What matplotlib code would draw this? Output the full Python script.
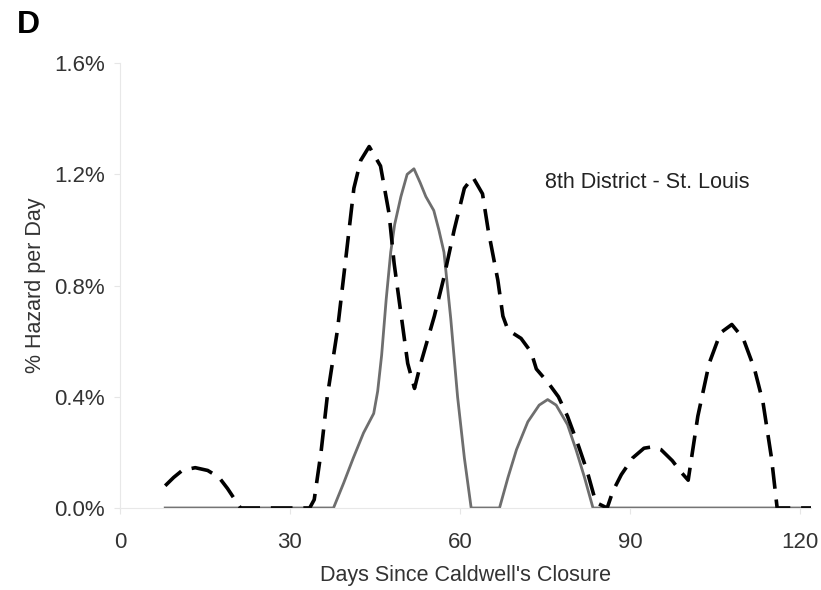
import matplotlib.pyplot as plt
from matplotlib.ticker import FuncFormatter

plt.rcParams["font.family"] = ["Liberation Sans", "DejaVu Sans"]

# solid gray series (days, % hazard per day)
dias_solida = [8, 37.7, 39.5, 41.2, 43, 44.8, 45.5, 46.2, 47, 47.8, 48.5, 49.6, 50.7, 51.9,
               53, 54, 55.4, 56.3, 57.2, 58.4, 59.6, 60.8, 62, 67, 68.5, 70, 72, 74, 75.5,
               77, 79, 80.5, 82, 83.5, 122]
valores_solida = [0, 0, 0.09, 0.18, 0.27, 0.34, 0.42, 0.55, 0.75, 0.92, 1.02, 1.12, 1.20, 1.22,
                  1.17, 1.12, 1.07, 1.00, 0.92, 0.68, 0.40, 0.18, 0, 0, 0.11, 0.21, 0.31, 0.37, 0.39,
                  0.37, 0.30, 0.21, 0.11, 0, 0]

# dashed black series
dias_guion = [8, 9.5, 11, 13.3, 15.5, 17.5, 19, 20.3, 21.3, 33.5, 34.3, 35.5, 36.6, 38.4, 40, 41.3,
              42.5, 44, 46, 47.5, 48.4, 49.6, 50.8, 52, 53.1, 55.5, 57.2, 59, 60.8, 62.3, 64,
              65, 66.7, 67.6, 68.5, 70.8, 72.6, 73.5, 75.6, 77.4, 79, 81, 82.5, 84, 86,
              87, 88.5, 90.5, 92.5, 94, 95.5, 97.5, 99, 100.3, 102, 104, 106, 108, 110,
              112, 113.5, 115, 116, 122]
valores_guion = [0.08, 0.11, 0.135, 0.145, 0.135, 0.11, 0.07, 0.03, 0, 0, 0.03, 0.2, 0.40, 0.64, 0.92, 1.15,
                 1.25, 1.30, 1.23, 1.06, 0.88, 0.70, 0.52, 0.43, 0.52, 0.69, 0.83, 1.00, 1.15, 1.19, 1.13,
                 1.00, 0.82, 0.69, 0.64, 0.61, 0.56, 0.50, 0.45, 0.40, 0.33, 0.22, 0.13, 0.02, 0,
                 0.06, 0.12, 0.18, 0.215, 0.22, 0.21, 0.17, 0.13, 0.10, 0.33, 0.52, 0.63, 0.66, 0.61,
                 0.50, 0.38, 0.18, 0, 0]

ticks_y = [0, 0.4, 0.8, 1.2, 1.6]
ticks_x = [0, 30, 60, 90, 120]

fig = plt.figure(figsize=(8.21, 5.90), dpi=100)
ax = fig.add_axes([0.146, 0.139, 0.842, 0.754])

ax.plot(dias_solida, valores_solida, color="#6e6e6e", linewidth=2, solid_joinstyle="round")
ax.plot(dias_guion, valores_guion, color="black", linewidth=2.6, dashes=(6, 3))

ax.text(75, 1.17, "8th District - St. Louis", fontsize=15.5, color="#222222", va="center")

ax.set_xlim(0, 122)
ax.set_ylim(0, 1.6)
ax.set_xticks(ticks_x)
ax.set_yticks(ticks_y)
ax.yaxis.set_major_formatter(FuncFormatter(lambda v, p: f"{v:.1f}%"))
ax.tick_params(labelsize=16, labelcolor="#333333", color="#e6e6e6", length=4)
ax.tick_params(axis="x", pad=13)
ax.tick_params(axis="y", pad=7)

for lado in ["top", "right"]:
    ax.spines[lado].set_visible(False)
for lado in ["left", "bottom"]:
    ax.spines[lado].set_color("#e8e8e8")

ax.set_xlabel("Days Since Caldwell's Closure", fontsize=15.5, color="#333333", labelpad=9)
ax.set_ylabel("% Hazard per Day", fontsize=15.5, color="#333333", labelpad=6)

fig.text(0.02, 0.958, "D", fontsize=23, fontweight="bold", va="center")

plt.savefig("out.png", dpi=100)
